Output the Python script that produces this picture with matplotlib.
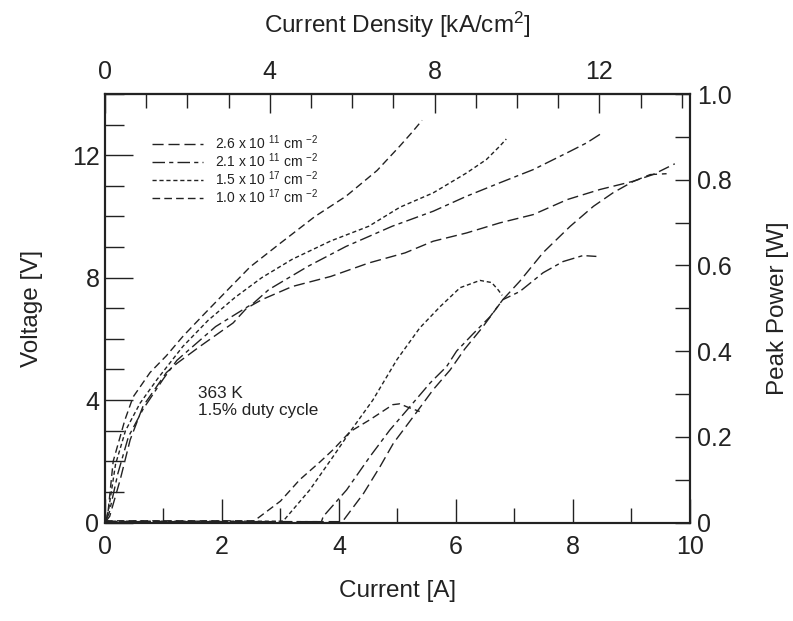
import matplotlib
matplotlib.use("Agg")
import matplotlib.pyplot as plt
from matplotlib.lines import Line2D

plt.rcParams["font.family"] = ["Liberation Sans", "DejaVu Sans"]
plt.rcParams["mathtext.fontset"] = "custom"
plt.rcParams["mathtext.rm"] = "Liberation Sans"
plt.rcParams["mathtext.default"] = "regular"

INK = "#222222"

# voltage curves: current [A], voltage [V]
i_v1 = [0, 0.05, 0.14, 0.34, 0.48, 0.77, 1.05, 1.34, 1.69, 2.02, 2.48, 3.0, 3.59, 4.12, 4.65, 5.04, 5.24, 5.42]
v_v1 = [0, 0.3, 2.0, 3.35, 4.1, 4.9, 5.45, 6.1, 6.8, 7.45, 8.35, 9.13, 10.0, 10.66, 11.5, 12.3, 12.73, 13.14]

i_v2 = [0, 0.06, 0.18, 0.35, 0.6, 0.9, 1.33, 1.76, 2.22, 2.68, 3.2, 3.86, 4.51, 5.04, 5.61, 6.18, 6.52, 6.75, 6.86]
v_v2 = [0, 0.4, 1.9, 3.0, 3.9, 4.7, 5.75, 6.6, 7.35, 8.0, 8.6, 9.2, 9.68, 10.3, 10.77, 11.42, 11.86, 12.3, 12.53]

i_v3 = [0, 0.07, 0.22, 0.4, 0.65, 1.0, 1.23, 1.89, 2.54, 2.8, 3.47, 4.12, 4.91, 5.61, 6.18, 6.75, 7.32, 7.9, 8.23, 8.5]
v_v3 = [0, 0.3, 1.6, 2.8, 3.7, 4.7, 5.3, 6.4, 7.17, 7.61, 8.37, 9.02, 9.68, 10.17, 10.66, 11.1, 11.53, 12.08, 12.4, 12.73]

i_v4 = [0, 0.08, 0.26, 0.43, 0.65, 1.05, 1.23, 1.62, 2.19, 2.42, 2.68, 3.2, 3.86, 4.51, 5.13, 5.61, 6.18, 6.75, 7.32, 7.9, 8.46, 9.03, 9.37, 9.74]
v_v4 = [0, 0.2, 1.4, 2.7, 3.8, 4.9, 5.2, 5.75, 6.52, 7.0, 7.28, 7.71, 8.04, 8.48, 8.81, 9.19, 9.46, 9.79, 10.06, 10.55, 10.88, 11.15, 11.37, 11.72]

# peak power curves: current [A], power [W]
i_p1 = [0, 2.55, 2.65, 3.0, 3.33, 3.68, 3.9, 4.19, 4.53, 4.92, 5.04, 5.16, 5.38]
p_p1 = [0.004, 0.004, 0.014, 0.05, 0.10, 0.142, 0.17, 0.212, 0.24, 0.275, 0.277, 0.27, 0.259]

i_p2 = [0, 3.0, 3.05, 3.5, 3.9, 4.19, 4.58, 4.99, 5.38, 5.73, 6.07, 6.41, 6.61, 6.72, 6.79]
p_p2 = [0.003, 0.003, 0.004, 0.076, 0.154, 0.212, 0.286, 0.38, 0.454, 0.504, 0.548, 0.565, 0.56, 0.543, 0.53]

i_p3 = [0, 3.7, 3.73, 4.13, 4.53, 4.87, 5.21, 5.56, 5.84, 6.01, 6.29, 6.58, 6.8, 7.09, 7.49, 7.83, 8.17, 8.4]
p_p3 = [0.002, 0.002, 0.014, 0.076, 0.154, 0.216, 0.27, 0.326, 0.364, 0.4, 0.44, 0.48, 0.52, 0.539, 0.583, 0.609, 0.623, 0.621]

i_p4 = [0, 4.0, 4.07, 4.42, 4.7, 4.93, 5.27, 5.61, 5.9, 6.15, 6.45, 6.8, 7.09, 7.49, 7.95, 8.35, 8.69, 9.03, 9.32, 9.6]
p_p4 = [0.002, 0.002, 0.004, 0.068, 0.13, 0.185, 0.247, 0.31, 0.356, 0.405, 0.455, 0.52, 0.563, 0.63, 0.691, 0.738, 0.77, 0.796, 0.812, 0.814]

labels = [
    r"2.6 x 10 $^{11}$ cm $^{-2}$",
    r"2.1 x 10 $^{11}$ cm $^{-2}$",
    r"1.5 x 10 $^{17}$ cm $^{-2}$",
    r"1.0 x 10 $^{17}$ cm $^{-2}$",
]
styles = [(0, (8, 3.5)), (0, (9, 3, 3, 3)), (0, (3, 2)), (0, (5.5, 3))]

A_TO_KA_CM2 = 1.42

fig = plt.figure(figsize=(7.93, 6.21), dpi=100)
ax = fig.add_axes([0.1324, 0.1586, 0.7377, 0.69])
ax2 = ax.twinx()

lw = 1.0
# order: 2.6e11 -> v4/p4, 2.1e11 -> v3/p3, 1.5e17 -> v2/p2, 1.0e17 -> v1/p1
ax.plot(i_v4, v_v4, color=INK, lw=lw, ls=styles[0])
ax.plot(i_v3, v_v3, color=INK, lw=lw, ls=styles[1])
ax.plot(i_v2, v_v2, color=INK, lw=lw, ls=styles[2])
ax.plot(i_v1, v_v1, color=INK, lw=lw, ls=styles[3])
ax2.plot(i_p4, p_p4, color=INK, lw=lw, ls=styles[0])
ax2.plot(i_p3, p_p3, color=INK, lw=lw, ls=styles[1])
ax2.plot(i_p2, p_p2, color=INK, lw=lw, ls=styles[2])
ax2.plot(i_p1, p_p1, color=INK, lw=lw, ls=styles[3])

ax.set_xlim(0, 10)
ax.set_ylim(0, 14)
ax2.set_ylim(0, 1.0)

ax.set_xticks([0, 2, 4, 6, 8, 10])
ax.set_xticks(range(0, 11), minor=True)
ax.set_yticks([0, 4, 8, 12])
ax.set_yticks(range(0, 15), minor=True)
ax2.set_yticks([0, 0.2, 0.4, 0.6, 0.8, 1.0])
ax2.set_yticklabels(["0", "0.2", "0.4", "0.6", "0.8", "1.0"])
ax2.set_yticks([k / 10 for k in range(11)], minor=True)

top = ax.secondary_xaxis("top", functions=(lambda x: x * A_TO_KA_CM2, lambda x: x / A_TO_KA_CM2))
top.set_xticks([0, 4, 8, 12])
top.set_xticks(range(0, 15), minor=True)

for a in (ax, ax2, top):
    a.tick_params(which="both", direction="in", colors=INK, labelsize=18, width=1.0)
ax.tick_params(axis="x", pad=9)
ax.tick_params(axis="y", pad=4)
ax2.tick_params(axis="y", pad=5)
top.tick_params(pad=7)
ax.tick_params(which="major", length=17)
ax.tick_params(which="minor", length=11)
ax.tick_params(axis="y", which="minor", length=14)
ax.tick_params(axis="y", which="major", length=20)
ax2.tick_params(which="major", length=11)
ax2.tick_params(which="minor", length=11)
top.tick_params(which="major", length=14)
top.tick_params(which="minor", length=10)

for a in (ax, ax2):
    for s in a.spines.values():
        s.set_color(INK)
        s.set_linewidth(1.5)
top.spines["top"].set_color(INK)
top.spines["top"].set_linewidth(1.5)

ax.set_xlabel("Current [A]", fontsize=17.5, color=INK, labelpad=15)
ax.set_ylabel("Voltage [V]", fontsize=17.5, color=INK, labelpad=21)
ax2.set_ylabel("Peak Power [W]", fontsize=17.5, color=INK, labelpad=25)
top.set_xlabel(r"Current Density [kA/cm$^2$]", fontsize=17.5, color=INK, labelpad=20)

handles = [Line2D([], [], color=INK, lw=lw, ls=s) for s in styles]
ax.legend(handles, labels, loc="upper left", bbox_to_anchor=(0.063, 0.93),
          frameon=False, fontsize=10, handlelength=3.7, handletextpad=0.85,
          labelspacing=-0.06, borderpad=0.2, labelcolor=INK)

ax.text(0.159, 0.318, "363 K\n1.5% duty cycle", transform=ax.transAxes,
        fontsize=12.3, color=INK, va="top", ha="left", linespacing=1.15)

fig.savefig("out.png", dpi=100)
